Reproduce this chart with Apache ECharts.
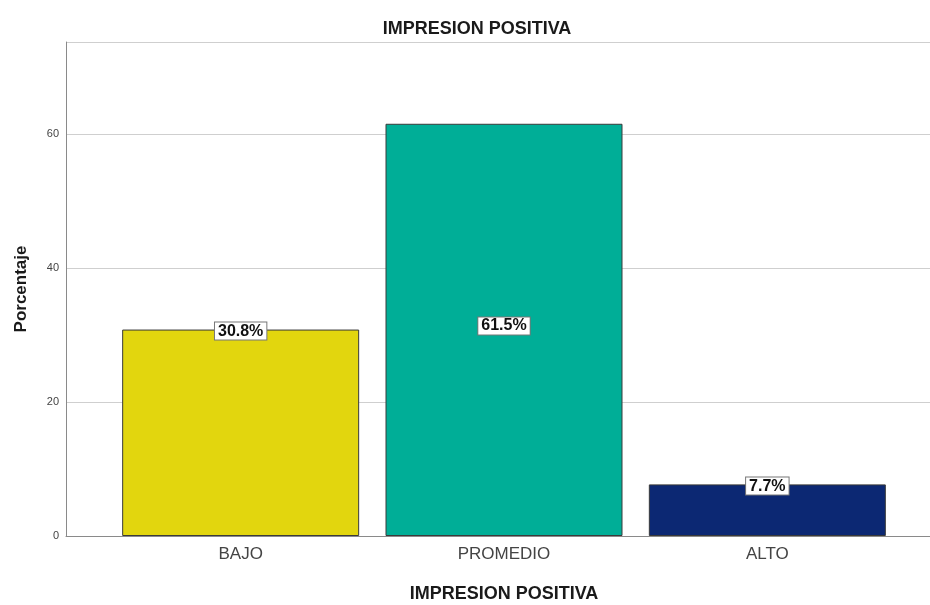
<!DOCTYPE html>
<html>
<head>
<meta charset="utf-8">
<script src="https://cdn.jsdelivr.net/npm/echarts@6/dist/echarts.min.js"></script>
<style>html,body{margin:0;padding:0;background:#fff}#c{width:930px;height:605px}</style>
</head>
<body>
<div id="c"></div>
<script>
const categories = ['BAJO', 'PROMEDIO', 'ALTO'];
const values = [30.8, 61.5, 7.7];
const colors = ['#e2d60e', '#00ae97', '#0c2873'];
const yTicks = [0, 20, 40, 60];
const chartTitle = 'IMPRESION POSITIVA';
const xName = 'IMPRESION POSITIVA';
const yName = 'Porcentaje';

const FONT = '"Liberation Sans", Arial, sans-serif';
const chart = echarts.init(document.getElementById('c'));
const yMax = 73.7;

const data = values.map((v, i) => ({
  value: v,
  itemStyle: { color: colors[i] },
  label: v > 50 ? { position: 'inside', offset: [0, -4] } : { position: 'top', distance: -10 }
}));

chart.setOption({
  animation: false,
  backgroundColor: '#fff',
  title: {
    text: chartTitle, top: 15, left: 472, textAlign: 'center',
    textStyle: { fontFamily: FONT, fontSize: 18, fontWeight: 'bold', color: '#1a1a1a' }
  },
  grid: [
    { left: 66, right: 0, top: 42, bottom: 69, outerBoundsMode: 'none', containLabel: false },
    { left: 109, right: 31, top: 42, bottom: 69, outerBoundsMode: 'none', containLabel: false }
  ],
  xAxis: [
    { gridIndex: 0, type: 'value', min: 0, max: 1,
      axisLine: { show: true, lineStyle: { color: '#8a8a8a', width: 1 } },
      axisTick: { show: false }, axisLabel: { show: false }, splitLine: { show: false } },
    { gridIndex: 1, type: 'category', data: categories,
      axisLine: { show: false }, axisTick: { show: false },
      axisLabel: { fontFamily: FONT, fontSize: 17, color: '#444', margin: 10 },
      name: xName, nameLocation: 'middle', nameGap: 49,
      nameTextStyle: { fontFamily: FONT, fontSize: 18, fontWeight: 'bold', color: '#1a1a1a' } }
  ],
  yAxis: [
    { gridIndex: 0, type: 'value', min: 0, max: yMax, interval: 20,
      axisLine: { show: true, lineStyle: { color: '#8a8a8a', width: 1 } },
      axisTick: { show: false },
      axisLabel: { fontFamily: FONT, fontSize: 11, color: '#444', margin: 7,
        formatter: v => yTicks.includes(v) ? String(v) : '' },
      splitLine: { show: true, lineStyle: { color: '#cfcfcf', width: 1 } },
      name: yName, nameLocation: 'middle', nameGap: 36,
      nameTextStyle: { fontFamily: FONT, fontSize: 17, fontWeight: 'bold', color: '#1a1a1a' } },
    { gridIndex: 1, type: 'value', min: 0, max: yMax, show: false }
  ],
  series: [{
    type: 'bar', xAxisIndex: 1, yAxisIndex: 1,
    data: data,
    barCategoryGap: '10%',
    itemStyle: { borderColor: '#3a3a3a', borderWidth: 1 },
    label: {
      show: true,
      formatter: p => p.value.toFixed(1) + '%',
      fontFamily: FONT, fontSize: 16, fontWeight: 'bold', color: '#111',
      backgroundColor: '#fff', borderColor: '#777', borderWidth: 1, padding: [1, 3, 0, 3]
    }
  }]
});
</script>
</body>
</html>
